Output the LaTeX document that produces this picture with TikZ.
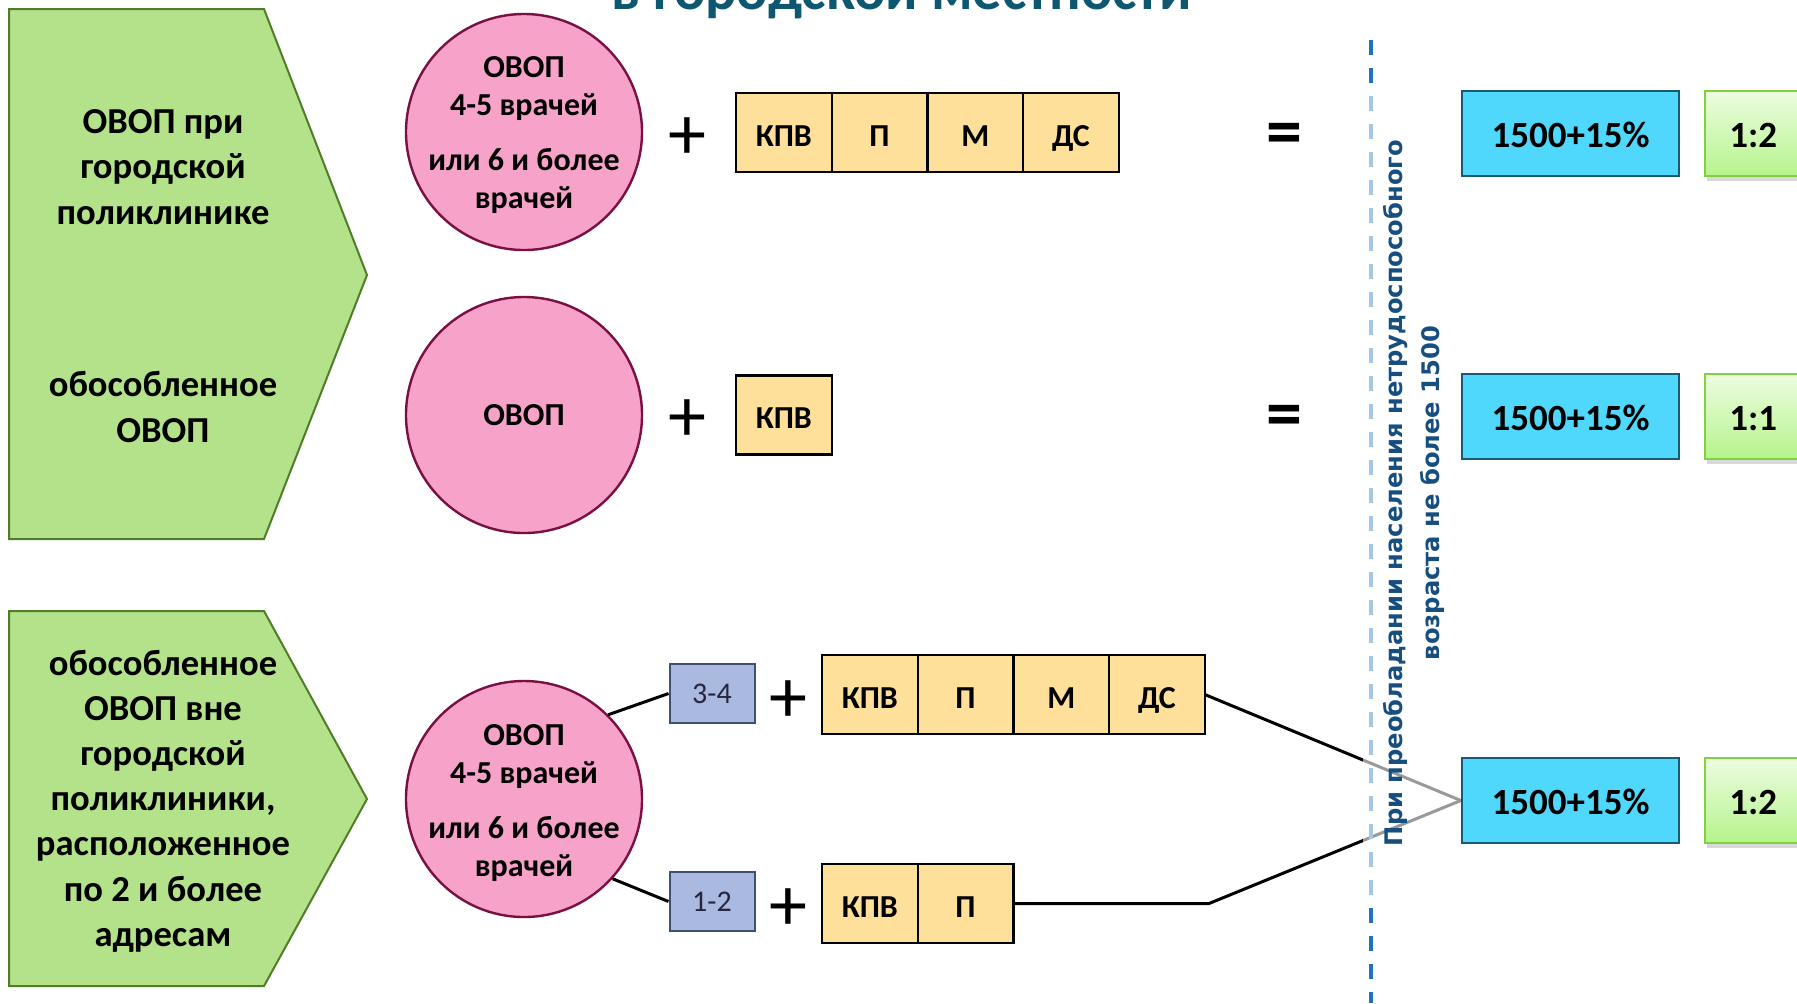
\documentclass[tikz,border=0pt]{standalone}
\usepackage{fontspec}
\setmainfont{Carlito}
\newfontfamily\notefont{DejaVu Sans}
\usepackage{tikz}
\usetikzlibrary{shapes,positioning,calc,shadows}

\definecolor{pentfill}{RGB}{179,226,139}
\definecolor{pentline}{RGB}{80,125,40}
\definecolor{ovopfill}{RGB}{246,162,201}
\definecolor{ovopline}{RGB}{122,16,66}
\definecolor{cellfill}{RGB}{254,224,155}
\definecolor{numfill}{RGB}{169,185,224}
\definecolor{numline}{RGB}{60,80,120}
\definecolor{resfill}{RGB}{80,216,252}
\definecolor{resline}{RGB}{22,90,115}
\definecolor{ratiotop}{RGB}{236,252,224}
\definecolor{ratiobot}{RGB}{182,244,140}
\definecolor{ratioline}{RGB}{128,208,64}
\definecolor{titleblue}{RGB}{14,87,112}
\definecolor{dashblue}{RGB}{31,115,190}
\definecolor{noteblue}{RGB}{22,78,128}

\begin{document}
\begin{tikzpicture}[x=0.5pt,y=-0.5pt,
		pent/.style={draw=pentline,fill=pentfill,line width=1pt},
		pentext/.style={align=center,font=\fontsize{18.3}{22.6}\selectfont\bfseries},
		ovop/.style={draw=ovopline,fill=ovopfill,line width=1.2pt,circle,
			minimum size=118pt,inner sep=-8pt,align=center,
			font=\fontsize{16}{19}\selectfont\bfseries},
		cell/.style={draw,fill=cellfill,line width=1.1pt,
			minimum width=47.85pt,minimum height=39.5pt,
			inner sep=0pt,outer sep=0pt,text height=13.7pt,text depth=0pt,
			font=\fontsize{16}{19}\selectfont\bfseries},
		num/.style={draw=numline,fill=numfill,line width=1pt,
			minimum width=42.5pt,minimum height=29.5pt,inner sep=0pt,
			text={rgb,255:red,38;green,38;blue,64},
			font=\fontsize{15}{18}\selectfont},
		res/.style={draw=resline,fill=resfill,line width=1.2pt,
			minimum width=108.5pt,minimum height=42.5pt,inner sep=0pt,
			text height=14pt,text depth=0pt,
			font=\fontsize{18.5}{22}\selectfont\bfseries},
		ratio/.style={draw=ratioline,top color=ratiotop,bottom color=ratiobot,
			line width=1.2pt,minimum width=48pt,minimum height=42.5pt,
			inner sep=0pt,text height=14pt,text depth=0pt,
			drop shadow={shadow xshift=1pt,shadow yshift=-2.5pt,opacity=0.3},
			font=\fontsize{18.5}{22}\selectfont\bfseries},
		sign/.style={inner sep=0pt,font=\fontsize{38}{40}\selectfont},
		link/.style={line width=1.5pt},
		divider/.style={draw=dashblue,line width=2pt,dash pattern=on 7.5pt off 6.5pt}
	]
	\useasboundingbox (0,0) rectangle (1797,1003);

	% title, cut by the top edge
	\node[anchor=base,text=titleblue,
		font=\fontsize{29.2}{32}\selectfont\bfseries] (title) at (902,9) {в городской местности};

	% left arrows
	\draw[pent] (9,9) -- (264,9) -- (367,275) -- (264,539) -- (9,539) -- cycle;
	\draw[pent] (9,611) -- (264,611) -- (367,799) -- (264,986) -- (9,986) -- cycle;

	\node[pentext] (t1a) at (163,167) {ОВОП при\\городской\\поликлинике};
	\node[pentext] (t1b) at (163,407) {обособленное\\ОВОП};
	\node[pentext] (t2) at (163,801) {обособленное\\ОВОП вне\\городской\\поликлиники,\\расположенное\\по 2 и более\\адресам};

	% circles
	\node[ovop] (c1) at (524,132) {\rule{0pt}{14pt}ОВОП\\4-5 врачей\\[8.5pt]или 6 и более\\врачей};
	\node[ovop] (c2) at (524,415) {ОВОП};
	\node[ovop] (c3) at (524,799) {\rule{0pt}{14pt}ОВОП\\4-5 врачей\\[8.5pt]или 6 и более\\врачей};

	\node[sign] (plus1) at (687,139) {+};
	\node[sign] (plus2) at (687,421) {+};
	\node[sign] (plus3) at (788,702) {+};
	\node[sign] (plus4) at (788,910) {+};

	% rows of cells
	\node[cell,anchor=west] (r1kpv) at (736,132.5) {КПВ};
	\node[cell,right=0pt of r1kpv] (r1p) {П};
	\node[cell,right=0pt of r1p] (r1m) {М};
	\node[cell,right=0pt of r1m] (r1ds) {ДС};

	\node[cell,anchor=west] (r2kpv) at (736,415) {КПВ};

	\node[cell,anchor=west] (r3kpv) at (822,694.5) {КПВ};
	\node[cell,right=0pt of r3kpv] (r3p) {П};
	\node[cell,right=0pt of r3p] (r3m) {М};
	\node[cell,right=0pt of r3m] (r3ds) {ДС};

	\node[cell,anchor=west] (r4kpv) at (822,903.5) {КПВ};
	\node[cell,right=0pt of r4kpv] (r4p) {П};

	\node[num] (n34) at (712,693.5) {3-4};
	\node[num] (n12) at (712,901.5) {1-2};

	\node[sign,font=\fontsize{36}{40}\selectfont\bfseries] (eq1) at (1284,139) {=};
	\node[sign,font=\fontsize{36}{40}\selectfont\bfseries] (eq2) at (1284,421) {=};

	% results
	\node[res] (res1) at (1570.5,133.5) {1500+15\%};
	\node[res] (res2) at (1570.5,416.5) {1500+15\%};
	\node[res] (res3) at (1570.5,800.5) {1500+15\%};

	\node[ratio,anchor=west] (ratio1) at (1704,133.5) {1:2};
	\node[ratio,anchor=west] (ratio2) at (1704,416.5) {1:1};
	\node[ratio,anchor=west] (ratio3) at (1704,800.5) {1:2};

	% connectors
	\coordinate (bend) at (1209,903.5);
	\draw[link] (c3.45) -- (n34.west);
	\draw[link] (c3.-42) -- (n12.west);
	\draw[link] (r3ds.east) -- (res3.west);
	\draw[link] (r4p.east) -- (bend) -- (res3.west);

	% divider, washed out behind the note
	\coordinate (dtop) at (1371,40);
	\coordinate (dbot) at (1371,1003);
	\draw[divider] (dtop) -- (dbot);
	\fill[white,opacity=0.6] (1363,86) rectangle (1461,904);

	\node[rotate=90,align=center,text=noteblue,inner sep=0pt,
		font=\notefont\bfseries\fontsize{12.1}{18.5}\selectfont] (note) at (1414,493)
		{При преобладании населения нетрудоспособного\\возраста не более 1500};

\end{tikzpicture}
\end{document}
